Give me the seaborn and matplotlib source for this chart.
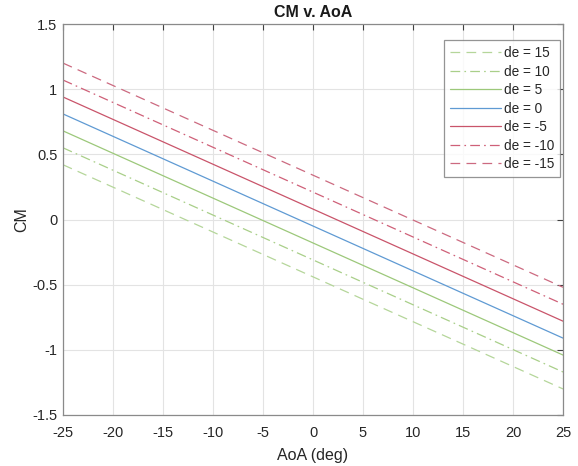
import matplotlib
matplotlib.use("Agg")
import matplotlib.pyplot as plt
import seaborn as sns
import pandas as pd
from matplotlib.ticker import FuncFormatter

sns.set_style("white")
plt.rcParams['font.family'] = ['Liberation Sans', 'DejaVu Sans']
plt.rcParams['lines.scale_dashes'] = False
plt.rcParams['axes.unicode_minus'] = False

# Data: CM at AoA endpoints for each elevator deflection
aoa = [-25, 25]
de_labels = ["de = 15", "de = 10", "de = 5", "de = 0", "de = -5", "de = -10", "de = -15"]
cm_de15 = [0.42, -1.30]
cm_de10 = [0.55, -1.17]
cm_de5 = [0.68, -1.04]
cm_de0 = [0.81, -0.91]
cm_dem5 = [0.94, -0.78]
cm_dem10 = [1.07, -0.65]
cm_dem15 = [1.20, -0.52]
series = [cm_de15, cm_de10, cm_de5, cm_de0, cm_dem5, cm_dem10, cm_dem15]

green = "#9cc87a"
blue = "#5f9ad3"
red = "#c9546a"
colors = ["#b5d69a", "#a9cf89", green, blue, red, "#cf6078", "#cc6a80"]
dash = (0, (7, 4.5))
dashdot = (0, (7, 3, 1.2, 3))
styles = [dash, dashdot, "-", "-", "-", dashdot, dash]

fig = plt.figure(figsize=(5.78, 4.66), dpi=100)
ax = fig.add_axes([63/578, 1 - 415/466, (563 - 63)/578, (415 - 24)/466])

for lab, vals, c, ls in zip(de_labels, series, colors, styles):
    df = pd.DataFrame({"AoA": aoa, "CM": vals})
    sns.lineplot(data=df, x="AoA", y="CM", ax=ax, color=c, linestyle=ls,
                 linewidth=0.9, label=lab)

ax.set_xlim(-25, 25)
ax.set_ylim(-1.5, 1.5)
ax.set_xticks(range(-25, 26, 5))
ax.set_yticks([-1.5, -1, -0.5, 0, 0.5, 1, 1.5])
ax.yaxis.set_major_formatter(FuncFormatter(lambda v, p: f"{v:g}"))
ax.grid(True, color="#e3e3e3", linewidth=0.8)
ax.set_axisbelow(True)
ax.tick_params(axis="both", direction="in", length=4, width=0.8, color="#404040",
               labelsize=10.5, labelcolor="#262626", top=True, right=True)
ax.tick_params(axis="x", pad=8)
ax.tick_params(axis="y", pad=4)
for s in ax.spines.values():
    s.set_color("#8a8a8a")
    s.set_linewidth(0.9)

ax.set_xlabel("AoA (deg)", fontsize=11.5, color="#262626", labelpad=6)
ax.set_ylabel("CM", fontsize=11.5, color="#262626", labelpad=2)
ax.set_title("CM v. AoA", fontsize=11.5, fontweight="bold", color="#1a1a1a", pad=5)

leg = ax.legend(loc="upper right", fontsize=9.8, frameon=True, fancybox=False,
                handlelength=3.7, handletextpad=0.2, labelspacing=0.33,
                borderpad=0.45, borderaxespad=0, bbox_to_anchor=(0.994, 0.959))
leg.get_frame().set_edgecolor("#7a7a7a")
leg.get_frame().set_linewidth(0.9)

fig.savefig("out.png", dpi=100)
